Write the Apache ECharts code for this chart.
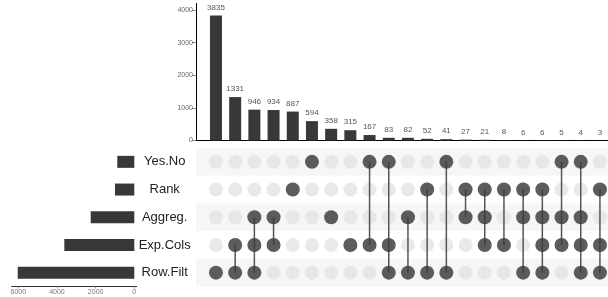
<!DOCTYPE html>
<html>
<head>
<meta charset="utf-8">
<script src="https://cdn.jsdelivr.net/npm/echarts@6/dist/echarts.min.js"></script>
<style>
  html, body { margin: 0; padding: 0; background: #fff; }
  #upset { width: 608px; height: 297px; }
</style>
</head>
<body>
<div id="upset"></div>
<script>
// sets, top to bottom as in the matrix
const setNames = ['Yes.No', 'Rank', 'Aggreg.', 'Exp.Cols', 'Row.Filt'];
// set sizes
const setSizes = [880, 1000, 2255, 3620, 6030];

// intersection sizes, left to right
const counts = [3835, 1331, 946, 934, 887, 594, 358, 315, 167, 83, 82, 52, 41, 27, 21, 8, 6, 6, 5, 4, 3];
// which sets take part in each intersection
const members = [
  ['Row.Filt'],
  ['Exp.Cols', 'Row.Filt'],
  ['Aggreg.', 'Exp.Cols', 'Row.Filt'],
  ['Aggreg.', 'Exp.Cols'],
  ['Rank'],
  ['Yes.No'],
  ['Aggreg.'],
  ['Exp.Cols'],
  ['Yes.No', 'Exp.Cols'],
  ['Yes.No', 'Exp.Cols', 'Row.Filt'],
  ['Aggreg.', 'Row.Filt'],
  ['Rank', 'Row.Filt'],
  ['Yes.No', 'Row.Filt'],
  ['Rank', 'Aggreg.'],
  ['Rank', 'Aggreg.', 'Exp.Cols'],
  ['Rank', 'Exp.Cols'],
  ['Rank', 'Aggreg.', 'Row.Filt'],
  ['Rank', 'Aggreg.', 'Exp.Cols', 'Row.Filt'],
  ['Yes.No', 'Aggreg.', 'Exp.Cols'],
  ['Yes.No', 'Aggreg.', 'Exp.Cols', 'Row.Filt'],
  ['Rank', 'Exp.Cols', 'Row.Filt']
];

const countTicks = [0, 1000, 2000, 3000, 4000];
const sizeTicks = [0, 2000, 4000, 6000];

var chartDom = document.getElementById('upset');
var myChart = echarts.init(chartDom);

const dark = '#383838';
const font = "'Liberation Sans', Arial, sans-serif";
const plain = function (v) { return String(v); };

// build matrix points
var bgDots = [];
var onDots = [];
var links = [];
members.forEach(function (m, i) {
  var rows = [];
  setNames.forEach(function (s, r) {
    bgDots.push([i, r]);
    if (m.indexOf(s) >= 0) {
      onDots.push([i, r]);
      rows.push(r);
    }
  });
  if (rows.length > 1) {
    links.push([i, Math.min.apply(null, rows), Math.max.apply(null, rows)]);
  }
});

var colMin = -1.04, colMax = 20.42;

const options = {
  animation: false,
  textStyle: { fontFamily: font },
  grid: [
    { left: 196, top: 3.5, width: 412, height: 137 },     // intersection bars
    { left: 196, top: 148, width: 412, height: 138.5 },   // matrix
    { left: 11.7, top: 148, width: 125, height: 138.5 }   // set sizes
  ],
  xAxis: [
    {
      gridIndex: 0, type: 'value', min: colMin, max: colMax,
      axisLine: { show: true, onZero: false, lineStyle: { color: '#000', width: 1 } },
      axisTick: { show: false }, axisLabel: { show: false }, splitLine: { show: false }
    },
    {
      gridIndex: 1, type: 'value', min: colMin, max: colMax, show: false
    },
    {
      gridIndex: 2, type: 'value', inverse: true, min: -124, max: 6342,
      axisLine: { show: true, onZero: false, lineStyle: { color: '#333', width: 1 } },
      axisTick: { show: true, customValues: sizeTicks, length: 2, lineStyle: { color: '#999' } },
      axisLabel: { customValues: sizeTicks, formatter: plain, fontSize: 7, color: '#777', margin: 2 },
      splitLine: { show: false }
    }
  ],
  yAxis: [
    {
      gridIndex: 0, type: 'value', min: 0, max: 4200,
      axisLine: { show: true, onZero: false, lineStyle: { color: '#000', width: 1 } },
      axisTick: { show: true, customValues: countTicks, length: 4, lineStyle: { color: '#888' } },
      axisLabel: { customValues: countTicks, formatter: plain, fontSize: 7, color: '#666', margin: 3 },
      splitLine: { show: false }
    },
    {
      gridIndex: 1, type: 'category', data: setNames, inverse: true,
      axisLine: { show: false }, axisTick: { show: false }, axisLabel: { show: false },
      splitArea: { show: true, areaStyle: { color: ['#f6f6f6', '#ffffff'] } }
    },
    {
      gridIndex: 2, type: 'category', data: setNames, inverse: true, position: 'right',
      axisLine: { show: false }, axisTick: { show: false },
      axisLabel: { margin: 28, align: 'center', fontSize: 13, color: '#222' }
    }
  ],
  series: [
    {
      type: 'bar', xAxisIndex: 0, yAxisIndex: 0, barWidth: 12,
      data: counts.map(function (c, i) { return [i, c]; }),
      itemStyle: { color: dark },
      label: { show: true, position: 'top', distance: 4, fontSize: 8, color: '#555' }
    },
    {
      type: 'scatter', xAxisIndex: 1, yAxisIndex: 1, symbolSize: 14,
      data: bgDots, itemStyle: { color: '#e3e3e3' }, z: 2
    },
    {
      type: 'custom', xAxisIndex: 1, yAxisIndex: 1, data: links, z: 3,
      renderItem: function (params, api) {
        var a = api.coord([api.value(0), api.value(1)]);
        var b = api.coord([api.value(0), api.value(2)]);
        return {
          type: 'line',
          shape: { x1: a[0], y1: a[1], x2: b[0], y2: b[1] },
          style: { stroke: '#555', lineWidth: 1.5 }
        };
      }
    },
    {
      type: 'scatter', xAxisIndex: 1, yAxisIndex: 1, symbolSize: 14,
      data: onDots, itemStyle: { color: dark }, z: 4
    },
    {
      type: 'bar', xAxisIndex: 2, yAxisIndex: 2, barWidth: 12,
      data: setSizes, itemStyle: { color: dark }
    }
  ]
};

myChart.setOption(options);
</script>
</body>
</html>
